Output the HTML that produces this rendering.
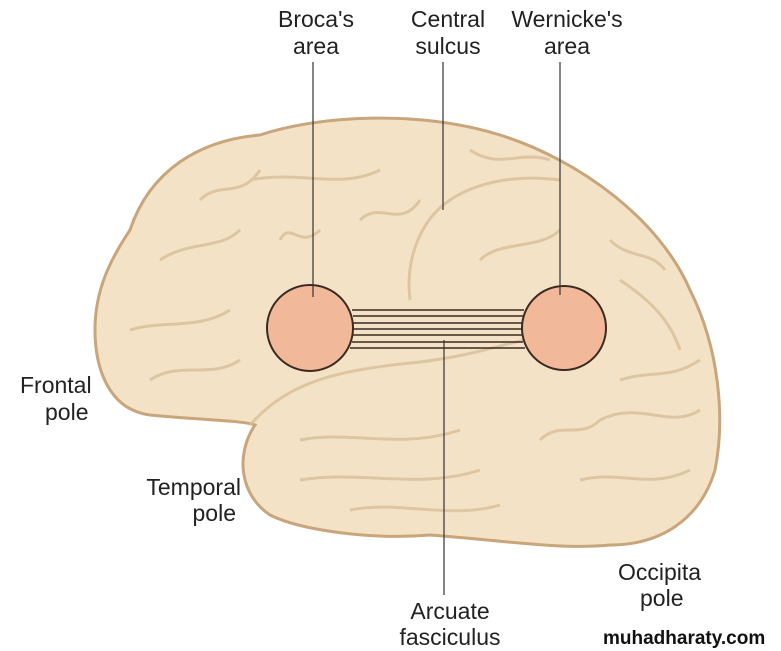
<!DOCTYPE html>
<html><head><style>
body{margin:0;background:#fff;width:781px;height:651px;overflow:hidden}
svg{display:block}
text{font-family:"Liberation Sans",sans-serif;font-size:23px;fill:#222}
</style></head><body>
<svg width="781" height="651" viewBox="0 0 781 651">
<path d="M130,230 C150,170 200,140 260,135 C320,115 420,110 500,135 C580,160 660,220 690,290 C720,350 725,420 715,470 C700,520 660,545 610,545 C560,550 500,540 430,535 C370,540 300,530 270,515 C240,495 235,455 255,425 C240,420 200,420 150,415 C110,410 95,370 95,330 C95,290 110,260 130,230 Z" fill="#f4e2c6" stroke="#c9a57c" stroke-width="3"/>
<g fill="none" stroke="#d9bf9a" stroke-width="3" opacity="0.8">
<path d="M250,425 C290,380 340,370 420,362 C470,356 500,345 525,340"/>
<path d="M410,300 C405,260 420,220 450,200 C480,180 520,175 560,180"/>
<path d="M160,260 C190,240 220,250 240,230"/>
<path d="M130,330 C160,320 200,330 230,310"/>
<path d="M300,440 C350,430 400,450 460,430"/>
<path d="M300,480 C360,470 420,490 480,470"/>
<path d="M600,420 C640,400 670,430 700,410"/>
<path d="M580,480 C620,470 650,490 690,470"/>
<path d="M250,180 C300,170 340,190 380,170"/>
<path d="M480,260 C500,240 540,250 560,230"/>
<path d="M620,280 C650,300 670,320 680,350"/>
<path d="M200,200 C220,180 240,200 260,170"/>
<path d="M150,380 C180,360 210,380 240,360"/>
<path d="M360,220 C380,200 400,230 420,200"/>
<path d="M470,150 C500,170 520,150 550,160"/>
<path d="M610,240 C630,260 650,250 665,270"/>
<path d="M620,380 C650,370 670,380 700,360"/>
<path d="M350,510 C400,500 450,520 500,505"/>
<path d="M540,440 C560,420 580,440 600,420"/>
<path d="M280,240 C290,220 300,250 320,230"/>
</g>
<circle cx="310" cy="328" r="43" fill="#f2b89a" stroke="#3a2a20" stroke-width="2"/>
<circle cx="564" cy="328" r="42" fill="#f2b89a" stroke="#3a2a20" stroke-width="2"/>
<g stroke="#3a2a20" stroke-width="1.6">
<line x1="352" y1="310" x2="524" y2="310"/>
<line x1="353" y1="316" x2="523" y2="316"/>
<line x1="353" y1="323" x2="522" y2="323"/>
<line x1="353" y1="329" x2="522" y2="329"/>
<line x1="353" y1="335" x2="522" y2="335"/>
<line x1="352" y1="342" x2="523" y2="342"/>
<line x1="350" y1="348" x2="525" y2="348"/>
</g>
<g stroke="#333" stroke-width="1.2">
<line x1="313" y1="62" x2="313" y2="297"/>
<line x1="443" y1="62" x2="443" y2="210"/>
<line x1="560" y1="62" x2="560" y2="295"/>
<line x1="444" y1="340" x2="444" y2="595"/>
</g>
<text x="316" y="27" text-anchor="middle">Broca's</text>
<text x="316" y="54" text-anchor="middle">area</text>
<text x="448" y="27" text-anchor="middle">Central</text>
<text x="448" y="54" text-anchor="middle">sulcus</text>
<text x="567" y="27" text-anchor="middle">Wernicke's</text>
<text x="567" y="54" text-anchor="middle">area</text>
<text x="20" y="393">Frontal</text>
<text x="45" y="420">pole</text>
<text x="241" y="495" text-anchor="end">Temporal</text>
<text x="236" y="521" text-anchor="end">pole</text>
<text x="618" y="580">Occipita</text>
<text x="640" y="606">pole</text>
<text x="450" y="619" text-anchor="middle">Arcuate</text>
<text x="450" y="645" text-anchor="middle">fasciculus</text>
<text x="603" y="644" style="font-size:19px;font-weight:bold;fill:#111">muhadharaty.com</text>
</svg>
</body></html>
